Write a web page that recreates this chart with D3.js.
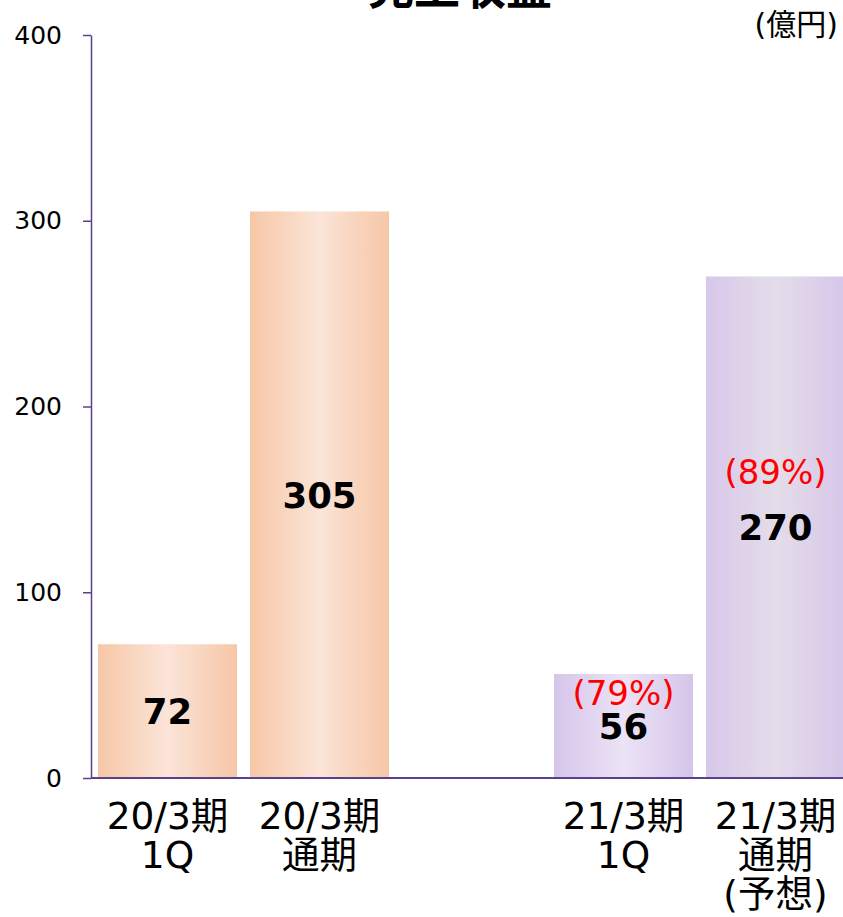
<!DOCTYPE html>
<html>
<head>
<meta charset="utf-8">
<script src="https://cdn.jsdelivr.net/npm/d3@7/dist/d3.min.js"></script>
<style>
  html, body { margin: 0; padding: 0; background: #fff; }
  svg { display: block; }
  text { font-family: "DejaVu Sans", "Noto Sans CJK JP", sans-serif; }
</style>
</head>
<body>
<svg id="chart" width="843" height="917"></svg>
<script>
// ---- data ----
const title = "売上収益";
const unitLabel = "(億円)";
const categories = ["20/3期 1Q", "20/3期 通期", "", "21/3期 1Q", "21/3期 通期(予想)"];
const categoryLines = [["20/3期", "1Q"], ["20/3期", "通期"], [], ["21/3期", "1Q"], ["21/3期", "通期", "(予想)"]];
const values = [72, 305, null, 56, 270];
const percentLabels = [null, null, null, "(79%)", "(89%)"];
const yTicks = [0, 100, 200, 300, 400];

// ---- layout ----
const svg = d3.select("#chart");
const axisX = 91, yTop = 35, yBottom = 778;
const axisColor = "#5a4190";

const x = d3.scaleBand()
  .domain(categories)
  .range([axisX, 852])
  .paddingInner(0.0855)
  .paddingOuter(0.046);

const y = d3.scaleLinear().domain([0, 400]).range([yBottom, yTop]);

// gradients
const defs = svg.append("defs");
const gradSpecs = [
  { id: "gOrange", edge: "#f6c7a6", mid: "#fbe4d8" },
  { id: "gPurpleA", edge: "#d6c5ea", mid: "#ece3f6" },
  { id: "gPurpleB", edge: "#d7c7ea", mid: "#e4dde9" }
];
gradSpecs.forEach(g => {
  const lg = defs.append("linearGradient").attr("id", g.id)
    .attr("x1", "0%").attr("x2", "100%").attr("y1", "0%").attr("y2", "0%");
  lg.append("stop").attr("offset", "0%").attr("stop-color", g.edge);
  lg.append("stop").attr("offset", "50%").attr("stop-color", g.mid);
  lg.append("stop").attr("offset", "100%").attr("stop-color", g.edge);
});
const barFill = ["gOrange", "gOrange", null, "gPurpleA", "gPurpleB"];

const rows = categories.map((c, i) => ({ c, i, v: values[i], pct: percentLabels[i], lines: categoryLines[i] }));
const barRows = rows.filter(d => d.v != null);

// bars
svg.append("g").selectAll("rect").data(barRows).join("rect")
  .attr("x", d => x(d.c))
  .attr("width", x.bandwidth())
  .attr("y", d => y(d.v))
  .attr("height", d => y(0) - y(d.v))
  .attr("fill", d => `url(#${barFill[d.i]})`);

// y axis
const yAxis = d3.axisLeft(y).tickValues(yTicks).tickSize(8).tickSizeOuter(0).tickPadding(21);
const gy = svg.append("g").attr("transform", `translate(${axisX},0)`).call(yAxis);
gy.select(".domain").attr("stroke", axisColor).attr("stroke-width", 1.5);
gy.selectAll(".tick line").attr("stroke", axisColor).attr("stroke-width", 1.5);
gy.selectAll(".tick text").attr("font-size", 25).attr("fill", "#000")
  .attr("font-family", "DejaVu Sans, sans-serif");

// x baseline
svg.append("line")
  .attr("x1", axisX).attr("x2", 843)
  .attr("y1", y(0)).attr("y2", y(0))
  .attr("stroke", axisColor).attr("stroke-width", 2.2);

// value labels
svg.append("g").selectAll("text").data(barRows).join("text")
  .attr("x", d => x(d.c) + x.bandwidth() / 2)
  .attr("y", d => (y(d.v) + y(0)) / 2)
  .attr("dy", "0.36em")
  .attr("text-anchor", "middle")
  .attr("font-size", 35.5).attr("font-weight", "bold").attr("fill", "#000")
  .text(d => d.v);

// percent labels
const pctOffset = { 3: 33, 4: 55 };
svg.append("g").selectAll("text").data(barRows.filter(d => d.pct)).join("text")
  .attr("x", d => x(d.c) + x.bandwidth() / 2)
  .attr("y", d => (y(d.v) + y(0)) / 2 - pctOffset[d.i])
  .attr("dy", "0.36em")
  .attr("text-anchor", "middle")
  .attr("font-size", 34).attr("fill", "#ff0000")
  .text(d => d.pct);

// category labels
const catG = svg.append("g").selectAll("text").data(rows.filter(d => d.lines.length)).join("text")
  .attr("text-anchor", "middle")
  .attr("font-size", 37.5).attr("fill", "#000");
catG.selectAll("tspan").data(d => d.lines.map((l, k) => ({ l, k, cx: x(d.c) + x.bandwidth() / 2 }))).join("tspan")
  .attr("x", t => t.cx)
  .attr("y", t => 829 + t.k * 39)
  .text(t => t.l);

// unit
svg.append("text").attr("x", 838).attr("y", 35).attr("text-anchor", "end")
  .attr("font-size", 30).attr("fill", "#000")
  .attr("font-family", "Noto Sans CJK JP, sans-serif")
  .text(unitLabel);

// title (cropped at top)
svg.append("text").attr("x", 460).attr("y", 4).attr("text-anchor", "middle")
  .attr("font-size", 46).attr("font-weight", "bold").attr("fill", "#000")
  .attr("font-family", "Noto Sans CJK JP, sans-serif")
  .text(title);
</script>
</body>
</html>
